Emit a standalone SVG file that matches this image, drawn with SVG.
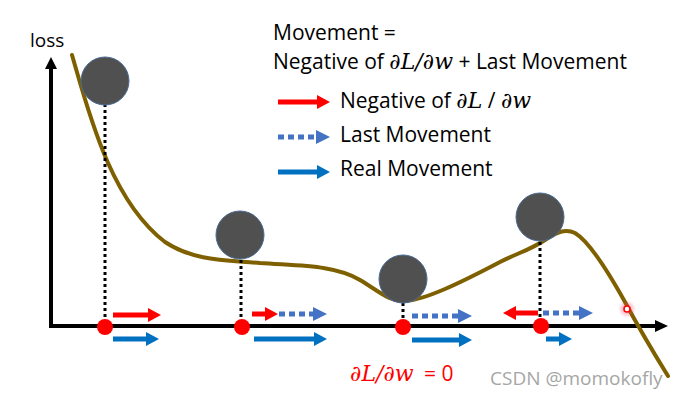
<svg xmlns="http://www.w3.org/2000/svg" width="681" height="400" viewBox="0 0 681 400">
<style>
.t{font-family:"Open Sans","Noto Sans","Liberation Sans",sans-serif;font-size:21px;fill:#000}
.m{font-family:"DejaVu Serif","Liberation Serif",serif;font-style:italic;font-size:22px}
.ball{fill:#505050;stroke:#4a6a96;stroke-width:1}
.drop{stroke:#000;stroke-width:3;stroke-dasharray:3 3;fill:none}
.dot{fill:#ff0000}
.red{stroke:#ff0000;stroke-width:5;fill:none;marker-end:url(#hr)}
.blue{stroke:#0070c0;stroke-width:5;fill:none;marker-end:url(#hb)}
.dash{stroke:#4472c4;stroke-width:5;stroke-dasharray:6 4;fill:none;marker-end:url(#hd)}
</style>
<defs>
<marker id="hr" markerUnits="userSpaceOnUse" markerWidth="14" markerHeight="16" refX="0" refY="7" orient="auto"><path d="M0,0 L13,7 L0,14 z" fill="#ff0000"/></marker>
<marker id="hb" markerUnits="userSpaceOnUse" markerWidth="14" markerHeight="16" refX="0" refY="7" orient="auto"><path d="M0,0 L13,7 L0,14 z" fill="#0070c0"/></marker>
<marker id="hd" markerUnits="userSpaceOnUse" markerWidth="16" markerHeight="16" refX="0" refY="7" orient="auto"><path d="M0,0 L14,7 L0,14 z" fill="#4472c4"/></marker>
<radialGradient id="glow"><stop offset="0" stop-color="#ff4060" stop-opacity="0.6"/><stop offset="1" stop-color="#ff4060" stop-opacity="0"/></radialGradient>
</defs>

<g id="axes">
<path d="M51,69 L51,326 L655,326" stroke="#000" stroke-width="4" fill="none" stroke-linejoin="miter"/>
<path d="M45,69 L51,57 L57,69 z" fill="#000"/>
<path d="M655,320 L668,326 L655,332 z" fill="#000"/>
<text id="loss" class="t" x="30" y="47" style="font-size:19px">loss</text>
</g>

<g id="curve">
<path d="M72,55 C88,110 110,200 165,242 C195,262 230,260 260,263 C300,266 335,265 360,280 C380,292 390,302 405,301 C425,300 460,283 500,262 C520,252 530,250 545,240 C555,233 565,228 575,233 C590,242 610,275 625,302 C640,330 655,355 668,376" stroke="#7f6000" stroke-width="4" fill="none" stroke-linecap="round"/>
</g>

<g id="connectors">
<line class="drop" x1="105" y1="104" x2="105" y2="322"/>
<line class="drop" x1="241" y1="260" x2="241" y2="322"/>
<line class="drop" x1="403" y1="303" x2="403" y2="322"/>
<line class="drop" x1="540" y1="242" x2="540" y2="322"/>
<line class="red" x1="113" y1="315" x2="148" y2="315"/>
<line class="blue" x1="113" y1="339" x2="146" y2="339"/>
<line class="red" x1="252" y1="314" x2="265" y2="314"/>
<line class="dash" x1="279" y1="314" x2="313" y2="314"/>
<line class="blue" x1="254" y1="339" x2="314" y2="339"/>
<line class="dash" x1="412" y1="316" x2="458" y2="316"/>
<line class="blue" x1="412" y1="340" x2="459" y2="340"/>
<line class="red" x1="538" y1="313" x2="516" y2="313"/>
<line class="dash" x1="543" y1="313" x2="579" y2="313"/>
<line class="blue" x1="546" y1="339" x2="559" y2="339"/>
</g>

<g id="ball1"><circle class="ball" cx="105" cy="81" r="24"/><circle class="dot" cx="105" cy="327" r="8"/></g>
<g id="ball2"><circle class="ball" cx="240" cy="235" r="24"/><circle class="dot" cx="242" cy="327" r="8"/></g>
<g id="ball3"><circle class="ball" cx="403" cy="279" r="24"/><circle class="dot" cx="403" cy="327" r="8"/></g>
<g id="ball4"><circle class="ball" cx="540" cy="217" r="24"/><circle class="dot" cx="541" cy="326" r="8"/></g>

<g id="marker-point">
<circle cx="627" cy="309" r="9" fill="url(#glow)"/>
<circle cx="627" cy="309" r="3" fill="#fff" stroke="#ff0000" stroke-width="1.5"/>
</g>

<g id="formula">
<text class="t" x="273" y="40">Movement =</text>
<text class="t" x="273" y="69">Negative of <tspan class="m">∂L/∂w</tspan> + Last Movement</text>
</g>

<g id="legend">
<line class="red" x1="278" y1="102" x2="317" y2="102"/>
<text class="t" x="340" y="108">Negative of <tspan class="m">∂L</tspan> / <tspan class="m">∂w</tspan></text>
<line class="dash" x1="278" y1="137" x2="316" y2="137"/>
<text class="t" x="340" y="142">Last Movement</text>
<line class="blue" x1="278" y1="172" x2="317" y2="172"/>
<text class="t" x="340" y="176">Real Movement</text>
</g>

<g id="labels">
<text x="350" y="381" fill="#ff0000"><tspan class="m">∂L/∂w</tspan><tspan x="424" style="font-family:'Open Sans','Noto Sans',sans-serif;font-size:21px">= 0</tspan></text>
<text x="490" y="385" style="font-family:'Open Sans','Noto Sans',sans-serif;font-size:19px;fill:#a6a6a6">CSDN @momokofly</text>
</g>
</svg>
